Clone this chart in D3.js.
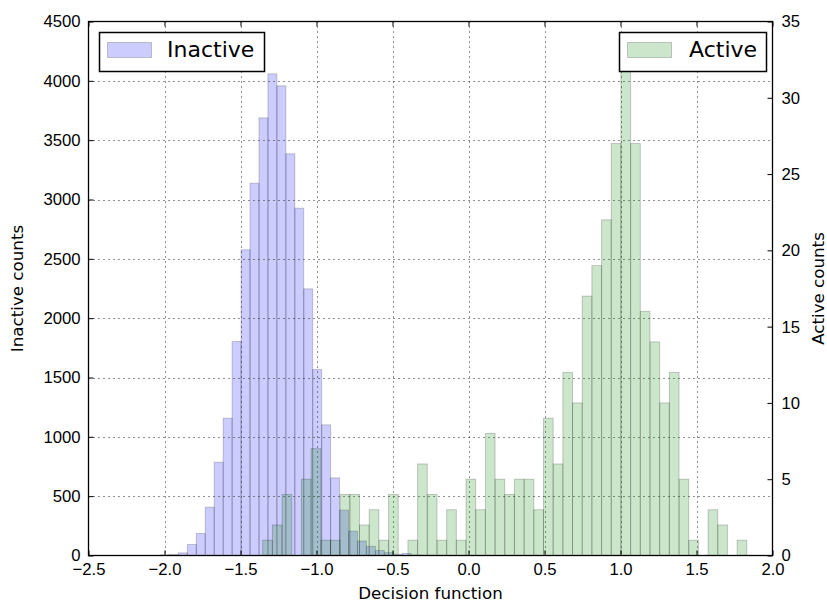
<!doctype html>
<html>
<head>
<meta charset="utf-8">
<title>Decision function histogram</title>
<style>
  body { margin:0; background:#fff; }
  svg { display:block; font-family:"DejaVu Sans", sans-serif; }
  .tick text { font-size:16.7px; fill:#000; }
  .tick line { stroke:#000; stroke-width:1px; }
  .grid line { stroke:#222; stroke-width:1px; stroke-dasharray:1,4; }
  .lab { font-size:16.7px; fill:#000; }
  .leg text { font-size:22px; fill:#000; }
</style>
<script src="https://d3js.org/d3.v7.min.js"></script>
</head>
<body>
<svg id="chart" width="827" height="603"></svg>
<script>

// bins (start, width) and counts
var inactiveStart = -2.0263
var inactiveWidth = 0.0589
var inactiveCounts = [5, 8, 22, 93, 185, 407, 786, 1157, 1803, 2576,
                      3137, 3688, 4059, 3958, 3385, 2927, 2247, 1567, 1101, 654,
                      382, 205, 122, 77, 42, 24, 10, 17, 4, 2,
                      1, 1, 0, 0, 1, 0, 0, 0, 0, 0,
                      0, 0, 0, 0, 0, 0, 0, 0, 0, 1]

var activeStart = -1.354
var activeWidth = 0.0637
var activeCounts = [1, 2, 4, 0, 5, 7, 1, 1, 4, 4,
                    2, 3, 1, 4, 0, 1, 6, 4, 1, 3,
                    1, 5, 3, 8, 5, 4, 5, 5, 3, 9,
                    6, 12, 10, 17, 19, 22, 27, 32, 27, 16,
                    14, 10, 12, 5, 1, 0, 3, 2, 0, 1]

var xTicks = [-2.5, -2.0, -1.5, -1.0, -0.5, 0.0, 0.5, 1.0, 1.5, 2.0]
var leftTicks = [0, 500, 1000, 1500, 2000, 2500, 3000, 3500, 4000, 4500]
var rightTicks = [0, 5, 10, 15, 20, 25, 30, 35]

var L = 88.5, R = 772.5, T = 21.5, B = 555.5
var svg = d3.select("#chart")

var x = d3.scaleLinear().domain([-2.5, 2.0]).range([L, R])
var yL = d3.scaleLinear().domain([0, 4500]).range([B, T])
var yR = d3.scaleLinear().domain([0, 35]).range([B, T])

var fmtX = function(d){ return d3.format(".1f")(d).replace("-", "\u2212") }

// inactive bars
svg.append("g")
  .selectAll("rect")
  .data(inactiveCounts)
  .enter()
  .append("rect")
  .attr("x", function(d,i){ return x(inactiveStart + i*inactiveWidth) })
  .attr("width", function(d,i){ return x(inactiveStart + (i+1)*inactiveWidth) - x(inactiveStart + i*inactiveWidth) })
  .attr("y", function(d){ return yL(d) })
  .attr("height", function(d){ return B - yL(d) })
  .attr("fill", "blue").attr("fill-opacity", 0.2)
  .attr("stroke", "#000").attr("stroke-opacity", 0.2)

// grid (left axis + x)
var grid = svg.append("g").attr("class", "grid")
grid.selectAll(".gx").data(xTicks.slice(1, -1)).enter().append("line")
  .attr("x1", function(d){ return Math.round(x(d)) + 0.5 }).attr("x2", function(d){ return Math.round(x(d)) + 0.5 })
  .attr("y1", T).attr("y2", B)
grid.selectAll(".gy").data(leftTicks.slice(1, -1)).enter().append("line")
  .attr("y1", function(d){ return Math.round(yL(d)) + 0.5 }).attr("y2", function(d){ return Math.round(yL(d)) + 0.5 })
  .attr("x1", L).attr("x2", R)

// inactive legend
var leg1 = svg.append("g").attr("class", "leg")
leg1.append("rect").attr("x", 99.5).attr("y", 32.5).attr("width", 165).attr("height", 39)
  .attr("fill", "#fff").attr("stroke", "#000").attr("stroke-width", 1.5)
leg1.append("rect").attr("x", 107.5).attr("y", 42.5).attr("width", 44).attr("height", 15)
  .attr("fill", "blue").attr("fill-opacity", 0.2).attr("stroke", "#000").attr("stroke-opacity", 0.2)
leg1.append("text").attr("x", 167).attr("y", 57).text("Inactive")

// active bars
svg.append("g")
  .selectAll("rect")
  .data(activeCounts)
  .enter()
  .append("rect")
  .attr("x", function(d,i){ return x(activeStart + i*activeWidth) })
  .attr("width", function(d,i){ return x(activeStart + (i+1)*activeWidth) - x(activeStart + i*activeWidth) })
  .attr("y", function(d){ return yR(d) })
  .attr("height", function(d){ return B - yR(d) })
  .attr("fill", "green").attr("fill-opacity", 0.2)
  .attr("stroke", "#000").attr("stroke-opacity", 0.2)

// active legend
var leg2 = svg.append("g").attr("class", "leg")
leg2.append("rect").attr("x", 619.5).attr("y", 32.5).attr("width", 147).attr("height", 39)
  .attr("fill", "#fff").attr("stroke", "#000").attr("stroke-width", 1.5)
leg2.append("rect").attr("x", 627.5).attr("y", 42.5).attr("width", 44).attr("height", 15)
  .attr("fill", "green").attr("fill-opacity", 0.2).attr("stroke", "#000").attr("stroke-opacity", 0.2)
leg2.append("text").attr("x", 689).attr("y", 57).text("Active")

// axes, ticks inward
svg.append("g").attr("transform", "translate(0," + B + ")")
  .call(d3.axisBottom(x).tickValues(xTicks).tickFormat(fmtX).tickSize(-5).tickPadding(8))
  .call(function(g){ g.select(".domain").remove() })
svg.append("g").attr("transform", "translate(0," + T + ")")
  .call(d3.axisTop(x).tickValues(xTicks).tickFormat("").tickSize(-5))
  .call(function(g){ g.select(".domain").remove() })
svg.append("g").attr("transform", "translate(" + L + ",0)")
  .call(d3.axisLeft(yL).tickValues(leftTicks).tickFormat(d3.format("d")).tickSize(-5).tickPadding(8))
  .call(function(g){ g.select(".domain").remove() })
svg.append("g").attr("transform", "translate(" + R + ",0)")
  .call(d3.axisRight(yR).tickValues(rightTicks).tickFormat(d3.format("d")).tickSize(-5).tickPadding(9))
  .call(function(g){ g.select(".domain").remove() })
svg.selectAll(".tick text").attr("font-family", null).attr("font-size", null)

// frame
svg.append("rect").attr("x", L).attr("y", T).attr("width", R - L).attr("height", B - T)
  .attr("fill", "none").attr("stroke", "#000").attr("stroke-width", 1.3)

// axis titles
svg.append("text").attr("class", "lab").attr("text-anchor", "middle")
  .attr("x", (L + R)/2).attr("y", 599).text("Decision function")
svg.append("text").attr("class", "lab").attr("text-anchor", "middle")
  .attr("transform", "translate(23," + (T + B)/2 + ") rotate(-90)").text("Inactive counts")
svg.append("text").attr("class", "lab").attr("text-anchor", "middle")
  .attr("transform", "translate(824," + (T + B)/2 + ") rotate(-90)").text("Active counts")

</script>
</body>
</html>
